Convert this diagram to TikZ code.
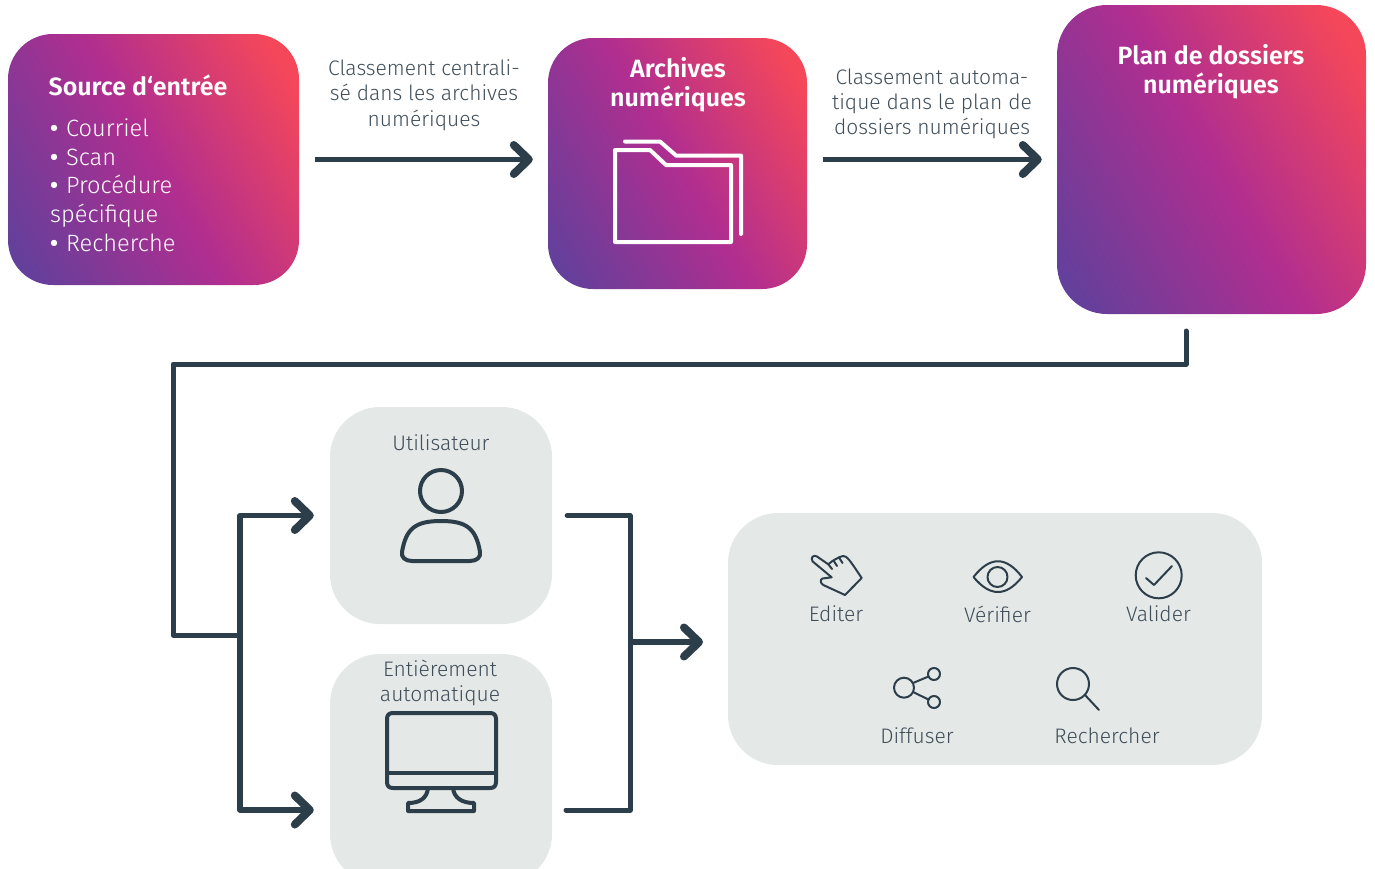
\documentclass[tikz,border=0pt]{standalone}
\usepackage{fontspec}
\setmainfont{Fira Sans Light}[BoldFont={Fira Sans SemiBold}]
\usetikzlibrary{arrows.meta}
\definecolor{ink}{HTML}{2D3E4B}
\definecolor{txt}{HTML}{3F4E59}
\definecolor{pale}{HTML}{E4E8E7}
\definecolor{gA}{HTML}{62409B}
\definecolor{gB}{HTML}{B02E90}
\definecolor{gC}{HTML}{F5475A}
\pgfdeclarehorizontalshading{brand}{100bp}{color(0bp)=(gA); color(19bp)=(gA); color(50bp)=(gB); color(79bp)=(gC); color(100bp)=(gC)}
\tikzset{
  grad/.style={shading=brand, shading angle=30, rounded corners=#1, inner sep=0pt, draw=none},
  palebox/.style={fill=pale, rounded corners=#1, inner sep=0pt, draw=none},
  flow/.style={draw=ink, line width=5.2pt, line join=round, -{Straight Barb[length=15pt,width=29pt,line width=8pt,round]}},
  wire/.style={draw=ink, line width=5pt, line join=round, line cap=round},
  big/.style={ink, line width=4pt, line join=round, line cap=round},
  thin/.style={ink, line width=2pt, line join=round, line cap=round},
  wht/.style={white, line width=4pt, line join=round, line cap=round},
  lab/.style={text=txt, font=\fontsize{21}{25.3}\selectfont, align=center, inner sep=0pt},
  head/.style={text=white, font=\fontsize{25}{28.7}\selectfont\bfseries, align=center, inner sep=0pt},
}
\begin{document}
\begin{tikzpicture}[x=1pt,y=-1pt]
\clip (0,0) rectangle (1375,868);
% boxes
\node[grad=45pt, minimum width=291pt, minimum height=251pt] (src) at (153.5,159.5) {};
\node[grad=45pt, minimum width=259pt, minimum height=251pt] (arch) at (677.5,163.5) {};
\node[grad=50pt, minimum width=309pt, minimum height=309pt] (plan) at (1211.5,159.5) {};
\node[palebox=50pt, minimum width=222pt, minimum height=217pt] (user) at (441,515.5) {};
\node[palebox=50pt, minimum width=222pt, minimum height=230pt] (auto) at (441,769) {};
\node[palebox=50pt, minimum width=534pt, minimum height=252pt] (act) at (995,639) {};
% headings
\node[head] (srct) at (138,85.5) {Source d‘entrée};
\node[head] (archt) at (678,85) {Archives\\numériques};
\node[head] (plant) at (1211,72) {Plan de dossiers\\numériques};
\node[text=white, anchor=north west, inner sep=0pt, align=left, text width=200pt, font=\fontsize{23.6}{28.7}\selectfont] (srcl) at (50,118.5) {{\bfseries •} Courriel\\{\bfseries •} Scan\\{\bfseries •} Procédure\\spécifique\\{\bfseries •} Recherche};
% labels
\node[lab] (l1) at (424,95) {Classement centrali-\\sé dans les archives\\numériques};
\node[lab] (l2) at (932,104) {Classement automa-\\tique dans le plan de\\dossiers numériques};
\node[lab] (lu) at (441,443) {Utilisateur};
\node[lab] (la) at (440,683) {Entièrement\\automatique};
\node[lab] (e1) at (836,614) {Editer};
\node[lab] (e2) at (997.5,614) {Vérifier};
\node[lab] (e3) at (1158.5,614) {Valider};
\node[lab] (e4) at (917,736) {Diffuser};
\node[lab] (e5) at (1107,736) {Rechercher};
% connectors
\coordinate (planout) at (1186,331);
\coordinate (c1) at (1186,364);
\coordinate (c2) at (173,364);
\coordinate (c3) at (173,635);
\coordinate (bus) at (240,635);
\coordinate (busT) at (240,515.5);
\coordinate (busB) at (240,810);
\coordinate (autoE) at (552,810);
\coordinate (j1) at (630,515.5);
\coordinate (j2) at (630,810);
\coordinate (jm) at (630,642);
\coordinate (aIn) at (728,642);
\draw[flow, shorten <=16pt, shorten >=15pt] (src.east) -- (src.east -| arch.west);
\draw[flow, shorten <=16pt, shorten >=15pt] (plan.west -| arch.east) -- (plan.west);
\draw[wire] (planout) -- (c1) -- (c2) -- (c3) -- (bus);
\draw[flow, shorten >=16pt] (bus) -- (busT) -- (user.west);
\draw[flow, shorten >=16pt] (bus) -- (busB) -- (busB -| auto.west);
\draw[wire, shorten <=15pt, shorten >=14pt] (user.east) -- (j1) -- (j2) -- (autoE);
\draw[flow, shorten >=25pt] (jm) -- (aIn);
% folder icon
\draw[wht] (625,141.5) -- (660,141.5) -- (676,155.5) -- (741,155.5) -- (741,234);
\draw[wht] (615,150) -- (650,150) -- (666,165) -- (731,165) -- (731,242) -- (615,242) -- cycle;
% person
\draw[big] (441,491) circle (21);
\draw[big] (412,561) .. controls (405,561) and (401,557) .. (402,552) .. controls (406,528) and (416,521) .. (441,521) .. controls (466,521) and (476,528) .. (480,552) .. controls (481,557) and (477,561) .. (470,561) -- cycle;
% monitor
\draw[big] (387,773) -- (387,719) .. controls (387,715) and (389,713) .. (393,713) -- (490,713) .. controls (494,713) and (496,715) .. (496,719) -- (496,782) .. controls (496,786) and (494,788) .. (490,788) -- (393,788) .. controls (389,788) and (387,786) .. (387,782) -- cycle;
\draw[big] (387,773) -- (496,773);
\draw[big] (428,788) .. controls (427,798) and (420,803) .. (408,803) -- (408,811) -- (474,811) -- (474,803) .. controls (462,803) and (454,798) .. (453,788);
% hand
\draw[thin] (812.7,561.5) .. controls (810,558) and (813.5,554) .. (817,556.5) -- (828.3,564.3) .. controls (833,560) and (839,557) .. (843,556) .. controls (847,556) and (849,559) .. (861.7,578) -- (845,595) -- (823.3,585) .. controls (820,583) and (820,579.5) .. (822.5,578.5) -- (831.7,577.3) -- cycle;
\draw[thin] (828.3,564.3) -- (832,569) (833.5,560.5) -- (837,566) (839,557.5) -- (842.5,563);
% eye
\draw[thin] (973.5,577) .. controls (990,556) and (1006,556) .. (1022,577) .. controls (1006,597) and (990,597) .. (973.5,577) -- cycle;
\draw[thin] (997.5,577) circle (10);
% check
\draw[thin] (1158.7,575.3) circle (23);
\draw[thin] (1146,578) -- (1154,585) -- (1172,566);
% share
\draw[thin] (904,687.7) circle (10);
\draw[thin] (934,674) circle (6);
\draw[thin] (934,702) circle (6);
\draw[thin] (913,683) -- (928.5,676.5) (913,692) -- (928.5,699.5);
% search
\draw[thin] (1073,684) circle (16);
\draw[thin] (1085,695) -- (1099,710);
\end{tikzpicture}
\end{document}
